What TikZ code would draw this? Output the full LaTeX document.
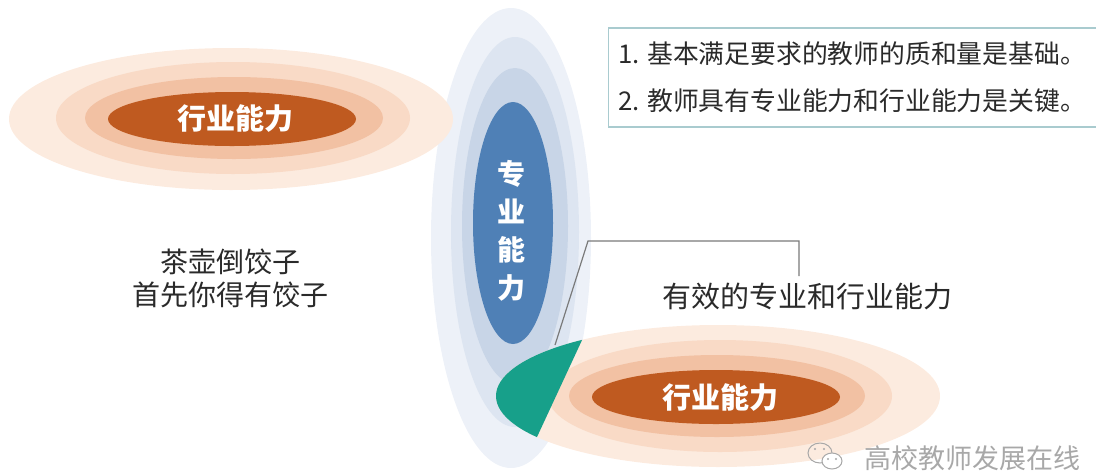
\documentclass[tikz,border=0pt]{standalone}
\usepackage{fontspec}
\setmainfont{Noto Sans CJK SC}
\usetikzlibrary{shapes.geometric}
\definecolor{orA}{HTML}{FCEBDF}
\definecolor{orB}{HTML}{F9DAC6}
\definecolor{orC}{HTML}{F2C1A3}
\definecolor{orD}{HTML}{BF5A20}
\definecolor{blA}{HTML}{EDF1F8}
\definecolor{blB}{HTML}{DDE5F1}
\definecolor{blC}{HTML}{C8D5E7}
\definecolor{blD}{HTML}{4F80B6}
\definecolor{tealg}{HTML}{17A08A}
\definecolor{boxline}{HTML}{A9CBCF}
\definecolor{txt}{HTML}{2A2A2A}
\definecolor{conn}{HTML}{7A7A7A}
\definecolor{wm}{HTML}{A8A8A8}
\begin{document}
\begin{tikzpicture}[x=1pt,y=-1pt,
  ring/.style={ellipse,inner sep=0pt,draw=none},
  lbl/.style={text=white,font=\fontsize{29}{38}\selectfont\bfseries,inner sep=0pt},
  body/.style={text=txt,font=\fontsize{28}{33}\selectfont,inner sep=0pt,align=center},
  boxtxt/.style={anchor=west,text=txt,font=\fontsize{25.8}{30}\selectfont,inner sep=0pt},
  connline/.style={draw=conn,line width=1.2pt}]
\useasboundingbox (0,0) rectangle (1096,475);
\clip (0,0) rectangle (1096,475);
% blue outer ring (under the top-left orange)
\node[ring,fill=blA,minimum width=160pt,minimum height=460pt] (bl1) at (511,238) {};
% top-left orange
\node[ring,fill=orA,minimum width=444pt,minimum height=142pt] (tl1) at (231,119) {};
\node[ring,fill=orB,minimum width=354pt,minimum height=112pt] (tl2) at (233,118) {};
\node[ring,fill=orC,minimum width=298pt,minimum height=82pt] (tl3) at (234,118) {};
\node[ring,fill=orD,minimum width=248pt,minimum height=54pt] (tl4) at (232,119) {};
\node[lbl] (tlt) at (235,119) {行业能力};
% blue inner rings
\node[ring,fill=blB,minimum width=128pt,minimum height=390pt] (bl2) at (515,232) {};
\node[ring,fill=blC,minimum width=106pt,minimum height=316pt] (bl3) at (515,226) {};
\node[ring,fill=blD,minimum width=80pt,minimum height=242pt] (bl4) at (513,223) {};
\node[lbl,align=center,font=\fontsize{28}{38}\selectfont\bfseries] (blt) at (511,231) {专\\业\\能\\力};
% bottom orange
\node[ring,fill=orA,minimum width=444pt,minimum height=142pt] (br1) at (718,396) {};
\node[ring,fill=orB,minimum width=344pt,minimum height=112pt] (br2) at (720,396) {};
\node[ring,fill=orC,minimum width=296pt,minimum height=82pt] (br3) at (717,396) {};
\node[ring,fill=orD,minimum width=248pt,minimum height=54pt] (br4) at (716,397) {};
\node[lbl] (brt) at (720,398) {行业能力};
% green intersection
\begin{scope}
  \clip (629,239) -- (491,536) -- (380,536) -- (380,239) -- cycle;
  \fill[tealg] (718,396) ellipse [x radius=222pt, y radius=71pt];
\end{scope}
% text box
\node[draw=boxline,line width=1.3pt,minimum width=495pt,minimum height=99pt,inner sep=0pt] (box) at (856,77.5) {};
\node[boxtxt] (b1) at (618,54) {1. 基本满足要求的教师的质和量是基础。};
\node[boxtxt] (b2) at (618,101) {2. 教师具有专业能力和行业能力是关键。};
% left text
\node[body] (lt) at (230,278) {茶壶倒饺子\\首先你得有饺子};
% effective label and connector
\node[text=txt,font=\fontsize{29}{33}\selectfont,inner sep=0pt] (eff) at (807,296) {有效的专业和行业能力};
\coordinate (cs) at (555,345);
\coordinate (cm) at (588,241);
\coordinate (ce) at (799,276);
\draw[connline] (cs) -- (cm) -| (ce);
% watermark
\node[anchor=west,text=wm,font=\fontsize{27}{31}\selectfont,inner sep=0pt] (wmt) at (864,458) {高校教师发展在线};
\draw[wm,line width=1pt] (820,453) ellipse [x radius=12pt, y radius=10pt];
\fill[white] (832,461) ellipse [x radius=10pt, y radius=8pt];
\draw[wm,line width=1pt] (832,461) ellipse [x radius=10pt, y radius=8pt];
\fill[wm] (815,449) circle (1.2pt) (824,449) circle (1.2pt) (828,459) circle (1.2pt) (836,459) circle (1.2pt);
\end{tikzpicture}
\end{document}
